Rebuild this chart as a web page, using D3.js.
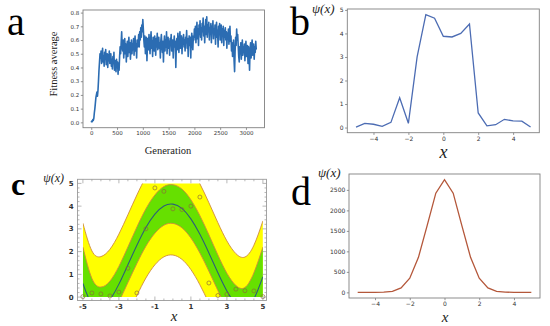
<!DOCTYPE html>
<html><head><meta charset="utf-8">
<script src="https://cdn.jsdelivr.net/npm/d3@7"></script>
<style>body{margin:0;background:#fff}svg{display:block}</style></head>
<body><svg id="fig" width="550" height="326"></svg>
<script>
// ---------- Panel a: fitness average per generation (every 10 generations) ----------
const genStep = 10;
const fitness = [
 0.00,0.01,0.005,0.02,0.015, 0.03,0.07,0.10,0.14,0.18, 0.20,0.22,0.19,0.23, 0.30,0.38,0.44,0.50,
 0.47,0.52,0.43,0.49,0.54,0.44,0.48,0.41,0.51,0.46,
 0.53,0.42,0.47,0.50,0.40,0.49,0.45,0.52,0.43,0.47,
 0.50,0.41,0.46,0.39,0.48,0.43,0.51,0.38,0.45,0.42,
 0.37,0.46,0.40,0.44,0.35,0.43,0.38,0.48,
 0.55,0.50,0.58,0.66,0.55,
 0.52,0.60,0.47,0.56,0.61,0.50,0.57,0.44,0.55,0.59,
 0.48,0.56,0.62,0.51,0.58,0.46,0.54,0.60,0.50,0.57,
 0.53,0.61,0.49,0.58,0.63,0.52,0.57,0.47,0.60,0.55,
 0.58,0.64,0.55,0.66,0.60,0.69,0.62,0.71,0.66,0.75,
 0.68,0.60,0.55,0.63,0.50,0.58,0.62,0.45,0.57,0.61,
 0.53,0.64,0.56,0.50,0.60,0.66,0.54,0.59,0.48,0.62,
 0.57,0.52,0.63,0.58,0.49,0.61,0.55,0.65,0.53,0.59,
 0.62,0.54,0.58,0.47,0.60,0.64,0.56,0.51,0.59,0.44,
 0.57,0.63,0.52,0.60,0.55,0.66,0.50,0.58,0.62,0.54,
 0.59,0.49,0.61,0.56,0.64,0.52,0.58,0.60,0.47,0.57,
 0.63,0.55,0.59,0.40,0.56,0.61,0.53,0.65,0.58,0.51,
 0.60,0.66,0.54,0.59,0.63,0.50,0.61,0.57,0.64,0.55,
 0.60,0.52,0.62,0.58,0.67,0.54,0.61,0.48,0.59,0.63,
 0.56,0.62,0.47,0.60,0.65,0.58,0.53,0.63,0.60,0.68,
 0.62,0.70,0.58,0.66,0.73,0.61,0.68,0.56,0.71,0.64,
 0.74,0.62,0.69,0.60,0.72,0.66,0.76,0.63,0.70,0.58,
 0.68,0.75,0.64,0.77,0.62,0.71,0.66,0.73,0.60,0.69,
 0.65,0.72,0.58,0.70,0.67,0.74,0.61,0.68,0.64,0.71,
 0.57,0.69,0.73,0.62,0.67,0.55,0.70,0.64,0.72,0.60,
 0.66,0.71,0.58,0.68,0.63,0.70,0.56,0.67,0.62,0.69,
 0.60,0.66,0.54,0.65,0.61,0.68,0.57,0.64,0.70,0.59,
 0.63,0.52,0.58,0.48,0.55,0.60,0.45,0.37,0.52,0.62,0.56,0.68,0.60,0.64,0.56,
 0.48,0.44,0.55,0.50,0.58,0.46,0.53,0.60,0.49,0.55,
 0.51,0.57,0.45,0.54,0.59,0.48,0.52,0.56,0.43,0.55,
 0.50,0.38,0.53,0.58,0.47,0.55,0.60,0.49,0.54,0.57,
 0.46,0.55,0.51,0.59,0.53
];
const genTicks = [0,500,1000,1500,2000,2500,3000];
const fitTicks = [0,0.1,0.2,0.3,0.4,0.5,0.6,0.7,0.8];

// ---------- Panels b, c, d: samples of psi(x) ----------
const xSamples = [-5,-4.5,-4,-3.5,-3,-2.5,-2,-1.5,-1,-0.5,0,0.5,1,1.5,2,2.5,3,3.5,4,4.5,5];
const psiB = [0.02,0.18,0.14,0.05,0.22,1.27,0.18,3.0,4.8,4.65,3.88,3.85,4.0,4.4,0.62,0.07,0.12,0.35,0.28,0.27,0.02];
const psiD = [0,0,1,5,25,110,345,855,1630,2420,2750,2420,1630,855,345,110,25,5,1,0,0];
const xTicksBD = [-4,-2,0,2,4];
const yTicksB = [0,1,2,3,4,5];
const yTicksD = [0,500,1000,1500,2000,2500];

// Panel c: fitted curve and bands
const fitCenter   = [0.60,-0.33,-0.48,-0.12,0.57,1.42,2.28,3.06,3.65,4.01,4.09,3.90,3.44,2.76,1.94,1.07,0.27,-0.31,-0.50,-0.08,0.90];
const greenUpper  = [2.20,0.82,0.44,0.70,1.35,2.20,3.08,3.88,4.49,4.86,4.94,4.75,4.28,3.58,2.74,1.85,1.05,0.51,0.42,1.07,2.20];
const greenLower  = [-1.00,-1.48,-1.40,-0.94,-0.21,0.64,1.48,2.24,2.81,3.16,3.24,3.05,2.60,1.94,1.14,0.29,-0.51,-1.13,-1.42,-1.23,-0.40];
const yellowUpper = [3.25,2.03,1.78,2.10,2.77,3.62,4.49,5.28,5.88,6.25,6.33,6.14,5.67,4.98,4.15,3.27,2.47,1.91,1.76,2.28,3.35];
const yellowLower = [-2.05,-2.69,-2.74,-2.34,-1.63,-0.78,0.07,0.84,1.42,1.77,1.85,1.66,1.21,0.54,-0.27,-1.13,-1.93,-2.53,-2.76,-2.44,-1.55];
const xTicksC = [-5,-3,-1,1,3,5];
const yTicksC = [0,1,2,3,4,5];

const svg = d3.select("#fig");
svg.append("rect").attr("width",550).attr("height",326).attr("fill","#fff");
const SERIF = "'Liberation Serif','Times New Roman',serif";
const SANS = "'DejaVu Sans',sans-serif";
const minus = v => v < 0 ? "\u2212" + Math.abs(v) : String(v);

function mplAxes(g, x, y, xt, yt, fx, fy, fs) {
  const [x0, x1] = x.range(), [y0, y1] = y.range();
  const ax = g.append("g").attr("transform", `translate(0,${y0})`)
    .call(d3.axisBottom(x).tickValues(xt).tickFormat(fx).tickSize(2.2).tickPadding(1.5));
  const ay = g.append("g").attr("transform", `translate(${x0},0)`)
    .call(d3.axisLeft(y).tickValues(yt).tickFormat(fy).tickSize(2.2).tickPadding(1.5));
  [ax, ay].forEach(a => {
    a.select(".domain").remove();
    a.selectAll("line").attr("stroke", "#666").attr("stroke-width", 0.7);
    a.selectAll("text").attr("font-family", SANS).attr("font-size", fs).attr("fill", "#333");
  });
  g.append("rect").attr("x", x0).attr("y", y1).attr("width", x1 - x0).attr("height", y0 - y1)
    .attr("fill", "none").attr("stroke", "#808080").attr("stroke-width", 0.9);
}

// ===== Panel a =====
{
  const g = svg.append("g");
  const x = d3.scaleLinear().domain([-160, 3360]).range([83, 264.5]);
  const y = d3.scaleLinear().domain([-0.039, 0.819]).range([127.7, 10]);
  g.append("path").datum(fitness)
    .attr("fill", "none").attr("stroke", "#2b6cb2").attr("stroke-width", 1.6).attr("stroke-linejoin", "round")
    .attr("d", d3.line().x((d, i) => x(i * genStep)).y(d => y(d)));
  mplAxes(g, x, y, genTicks, fitTicks, d => String(d), d => d.toFixed(1), 5.5);
  g.append("text").attr("x", 168).attr("y", 154).attr("text-anchor", "middle")
    .attr("font-family", SERIF).attr("font-size", 10.5).attr("fill", "#222").text("Generation");
  g.append("text").attr("transform", "translate(57,64) rotate(-90)").attr("text-anchor", "middle")
    .attr("font-family", SERIF).attr("font-size", 10.5).attr("fill", "#222").text("Fitness average");
  svg.append("text").attr("x", 7).attr("y", 35).attr("font-family", SERIF).attr("font-size", 40).attr("fill", "#000").text("a");
}

// ===== Panel b =====
{
  const g = svg.append("g");
  const x = d3.scaleLinear().domain([-5.5, 5.5]).range([347.3, 539.3]);
  const y = d3.scaleLinear().domain([-0.219, 5.039]).range([132.7, 9]);
  g.append("path").datum(xSamples.map((v, i) => [v, psiB[i]]))
    .attr("fill", "none").attr("stroke", "#4c6cb3").attr("stroke-width", 1.3)
    .attr("d", d3.line().x(d => x(d[0])).y(d => y(d[1])));
  mplAxes(g, x, y, xTicksBD, yTicksB, minus, d => String(d), 6);
  svg.append("text").attr("x", 290).attr("y", 35).attr("font-family", SERIF).attr("font-size", 40).attr("fill", "#000").text("b");
  svg.append("text").attr("x", 312).attr("y", 13).attr("font-family", SERIF).attr("font-style", "italic").attr("font-size", 13).attr("fill", "#222").text("\u03c8(x)");
  svg.append("text").attr("x", 443.5).attr("y", 158).attr("text-anchor", "middle").attr("font-family", SERIF).attr("font-style", "italic").attr("font-size", 18).attr("fill", "#222").text("x");
}

// ===== Panel c =====
{
  const g = svg.append("g");
  const x = d3.scaleLinear().domain([-5.3, 5.2]).range([77.5, 266.5]);
  const y = d3.scaleLinear().domain([-0.15, 5.18]).range([300.5, 179.3]);
  svg.append("defs").append("clipPath").attr("id", "clipC").append("rect")
    .attr("x", x(-5)).attr("y", y(5)).attr("width", x(5) - x(-5)).attr("height", y(0) - y(5));
  const body = g.append("g").attr("clip-path", "url(#clipC)");
  const pts = xSamples.map((v, i) => ({ x: v, c: fitCenter[i], gu: greenUpper[i], gl: greenLower[i], yu: yellowUpper[i], yl: yellowLower[i] }));
  const curve = d3.curveNatural;
  body.append("path").datum(pts).attr("fill", "#ffff00")
    .attr("d", d3.area().x(d => x(d.x)).y0(d => y(d.yl)).y1(d => y(d.yu)).curve(curve));
  body.append("path").datum(pts).attr("fill", "#66e000")
    .attr("d", d3.area().x(d => x(d.x)).y0(d => y(d.gl)).y1(d => y(d.gu)).curve(curve));
  ["yu", "yl", "gu", "gl"].forEach(k => {
    body.append("path").datum(pts).attr("fill", "none").attr("stroke", "#cf8a3c").attr("stroke-width", 0.9)
      .attr("d", d3.line().x(d => x(d.x)).y(d => y(d[k])).curve(curve));
  });
  body.append("path").datum(pts).attr("fill", "none").attr("stroke", "#2c5f78").attr("stroke-width", 1.1)
    .attr("d", d3.line().x(d => x(d.x)).y(d => y(d.c)).curve(curve));
  g.selectAll("circle.pt").data(xSamples.map((v, i) => [v, psiB[i]])).join("circle")
    .attr("cx", d => x(d[0])).attr("cy", d => y(d[1])).attr("r", 2)
    .attr("fill", "none").attr("stroke", "#8a6a3a").attr("stroke-width", 0.8).attr("stroke-opacity", 0.85);
  // Mathematica style frame
  const [x0, x1] = x.range(), [y0, y1] = y.range();
  g.append("rect").attr("x", x0).attr("y", y1).attr("width", x1 - x0).attr("height", y0 - y1)
    .attr("fill", "none").attr("stroke", "#9a9a9a").attr("stroke-width", 0.9);
  const minorX = d3.range(-5, 5.01, 0.5), minorY = d3.range(0, 5.01, 0.2);
  const tk = g.append("g").attr("stroke", "#9a9a9a").attr("stroke-width", 0.7);
  minorX.forEach(v => {
    const L = xTicksC.includes(v) ? 4 : 2;
    tk.append("line").attr("x1", x(v)).attr("x2", x(v)).attr("y1", y0).attr("y2", y0 - L);
    tk.append("line").attr("x1", x(v)).attr("x2", x(v)).attr("y1", y1).attr("y2", y1 + L);
  });
  minorY.forEach(v => {
    const L = yTicksC.some(t => Math.abs(t - v) < 1e-6) ? 4 : 2;
    tk.append("line").attr("x1", x0).attr("x2", x0 + L).attr("y1", y(v)).attr("y2", y(v));
    tk.append("line").attr("x1", x1).attr("x2", x1 - L).attr("y1", y(v)).attr("y2", y(v));
  });
  g.selectAll("text.xt").data(xTicksC).join("text").attr("x", d => x(d)).attr("y", 309)
    .attr("text-anchor", "middle").attr("font-family", SANS).attr("font-weight", "bold").attr("font-size", 7).attr("fill", "#333").text(d => String(d));
  g.selectAll("text.yt").data(yTicksC).join("text").attr("x", 73.5).attr("y", d => y(d) + 2.5)
    .attr("text-anchor", "end").attr("font-family", SANS).attr("font-weight", "bold").attr("font-size", 7).attr("fill", "#333").text(d => String(d));
  svg.append("text").attr("x", 11).attr("y", 195).attr("font-family", SERIF).attr("font-weight", "bold").attr("font-size", 32).attr("fill", "#000").text("c");
  svg.append("text").attr("x", 64).attr("y", 182).attr("text-anchor", "end").attr("font-family", SERIF).attr("font-style", "italic").attr("font-size", 12).attr("fill", "#222").text("\u03c8(x)");
  svg.append("text").attr("x", 174).attr("y", 321).attr("text-anchor", "middle").attr("font-family", SERIF).attr("font-style", "italic").attr("font-size", 15).attr("fill", "#222").text("x");
}

// ===== Panel d =====
{
  const g = svg.append("g");
  const x = d3.scaleLinear().domain([-5.5, 5.5]).range([349, 540]);
  const y = d3.scaleLinear().domain([-137.5, 2887.5]).range([298, 174]);
  g.append("path").datum(xSamples.map((v, i) => [v, psiD[i]]))
    .attr("fill", "none").attr("stroke", "#b4573a").attr("stroke-width", 1.3)
    .attr("d", d3.line().x(d => x(d[0])).y(d => y(d[1])));
  mplAxes(g, x, y, xTicksBD, yTicksD, minus, d => String(d), 6);
  svg.append("text").attr("x", 291).attr("y", 205).attr("font-family", SERIF).attr("font-size", 40).attr("fill", "#000").text("d");
  svg.append("text").attr("x", 318).attr("y", 177).attr("font-family", SERIF).attr("font-style", "italic").attr("font-size", 13).attr("fill", "#222").text("\u03c8(x)");
  svg.append("text").attr("x", 445).attr("y", 322).attr("text-anchor", "middle").attr("font-family", SERIF).attr("font-style", "italic").attr("font-size", 15).attr("fill", "#222").text("x");
}
</script></body></html>
